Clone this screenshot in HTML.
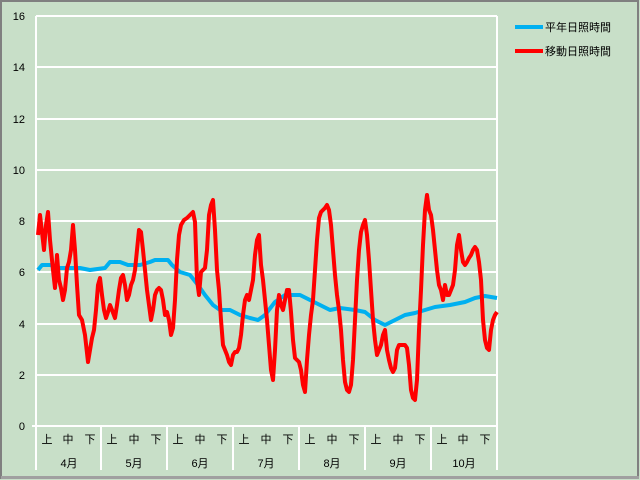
<!DOCTYPE html>
<html><head><meta charset="utf-8"><style>
html,body{margin:0;padding:0;background:#c8dfc8;}
svg{display:block;}
text{font-family:"Liberation Sans","Noto Sans CJK JP",sans-serif;font-size:11px;fill:#000;}
</style></head><body>
<svg width="640" height="480" viewBox="0 0 640 480">
<rect x="0" y="0" width="640" height="480" fill="#c8dfc8"/>
<rect x="1" y="1" width="637" height="477" fill="none" stroke="#808080" stroke-width="2"/>
<rect x="1" y="476" width="638" height="3" fill="#a0a0a0"/>
<g stroke="#fff" stroke-width="2" fill="none">
<line x1="36" y1="16" x2="497" y2="16"/>
<line x1="36" y1="67" x2="497" y2="67"/>
<line x1="36" y1="119" x2="497" y2="119"/>
<line x1="36" y1="170" x2="497" y2="170"/>
<line x1="36" y1="221" x2="497" y2="221"/>
<line x1="36" y1="272" x2="497" y2="272"/>
<line x1="36" y1="324" x2="497" y2="324"/>
<line x1="36" y1="375" x2="497" y2="375"/>
<line x1="32" y1="426" x2="497" y2="426"/>
<line x1="36" y1="16" x2="36" y2="470"/>
<line x1="497" y1="16" x2="497" y2="470"/>
<line x1="101" y1="426" x2="101" y2="470"/>
<line x1="167" y1="426" x2="167" y2="470"/>
<line x1="233" y1="426" x2="233" y2="470"/>
<line x1="299" y1="426" x2="299" y2="470"/>
<line x1="365" y1="426" x2="365" y2="470"/>
<line x1="431" y1="426" x2="431" y2="470"/>
</g>
<g text-anchor="end">
<text x="25" y="20">16</text><text x="25" y="71">14</text><text x="25" y="123">12</text>
<text x="25" y="174">10</text><text x="25" y="225">8</text><text x="25" y="276">6</text>
<text x="25" y="328">4</text><text x="25" y="379">2</text><text x="25" y="430">0</text>
</g>
<g text-anchor="middle">
<text x="47" y="443">上</text><text x="68" y="443">中</text><text x="90" y="443">下</text>
<text x="112" y="443">上</text><text x="134" y="443">中</text><text x="156" y="443">下</text>
<text x="178" y="443">上</text><text x="200" y="443">中</text><text x="222" y="443">下</text>
<text x="244" y="443">上</text><text x="266" y="443">中</text><text x="288" y="443">下</text>
<text x="310" y="443">上</text><text x="332" y="443">中</text><text x="354" y="443">下</text>
<text x="376" y="443">上</text><text x="398" y="443">中</text><text x="420" y="443">下</text>
<text x="442" y="443">上</text><text x="463" y="443">中</text><text x="485" y="443">下</text>
<text x="69" y="467">4月</text><text x="134" y="467">5月</text><text x="200" y="467">6月</text>
<text x="266" y="467">7月</text><text x="332" y="467">8月</text><text x="398" y="467">9月</text>
<text x="464" y="467">10月</text>
</g>
<polyline fill="none" stroke="#00b0f0" stroke-width="4" stroke-linejoin="round" points="38,270 42,265 50,265 60,268 70,268 80,268 90,270 105,268 110,262 120,262 128,265 140,265 150,262 155,260 168,260 172,265 180,272 190,275 198,285 205,295 213,305 220,310 230,310 240,315 250,318 258,320 265,315 275,302 285,295 300,295 310,300 320,305 330,310 340,308 355,310 365,312 375,320 385,325 395,320 405,315 415,313 425,310 435,307 450,305 465,302 475,298 485,296 497,298"/>
<polyline fill="none" stroke="#ff0000" stroke-width="4" stroke-linejoin="round" points="38,235 40,215 42,232 44,250 46,225 48,212 50,240 53,270 55,288 57,255 59,280 61,288 63,300 65,290 67,268 69,262 71,250 73,225 75,250 77,285 79,315 82,320 85,335 88,362 90,350 92,338 94,330 96,310 98,285 100,278 102,295 104,310 106,318 108,312 110,305 112,310 115,318 117,305 119,290 121,278 123,275 125,285 127,300 129,295 131,285 133,280 135,270 137,250 139,230 141,232 143,250 145,270 147,290 149,305 151,320 153,310 155,295 157,290 159,288 161,290 163,300 165,315 167,312 169,320 171,335 173,328 175,300 177,260 179,235 181,225 184,220 187,218 190,215 193,212 195,222 197,280 199,295 201,272 203,270 205,268 207,250 209,215 211,205 213,200 215,230 217,270 219,290 221,320 223,345 225,350 227,355 229,362 231,365 233,355 235,352 237,352 239,348 241,335 243,315 245,300 247,295 249,300 251,290 253,280 255,255 257,240 259,235 261,265 263,280 265,300 267,320 269,345 271,370 273,380 275,350 277,310 279,295 281,305 283,310 285,300 287,290 289,290 291,312 293,340 295,358 297,360 299,362 301,370 303,385 305,392 307,360 309,335 311,315 313,300 315,270 317,240 319,218 321,212 323,210 325,208 327,205 329,210 331,225 333,250 335,275 337,295 339,310 341,330 343,360 345,382 347,390 349,392 351,385 353,360 355,320 357,280 359,250 361,232 363,225 365,220 367,235 369,260 371,290 373,320 375,340 377,355 379,350 381,345 383,335 385,330 387,350 389,360 391,368 393,372 395,368 397,350 399,345 401,345 403,345 405,345 407,348 409,365 411,390 413,398 415,400 417,380 419,330 421,290 423,245 425,210 427,195 429,210 431,215 433,230 435,250 437,270 439,285 441,290 443,300 445,285 447,295 449,295 451,290 453,285 455,270 457,245 459,235 461,250 463,262 465,265 467,262 469,258 471,255 473,250 475,247 477,250 479,262 481,280 483,320 485,340 487,348 489,350 491,330 493,320 495,315 497,312"/>
<line x1="515" y1="27" x2="543" y2="27" stroke="#00b0f0" stroke-width="4"/>
<line x1="515" y1="51" x2="543" y2="51" stroke="#ff0000" stroke-width="4"/>
<text x="545" y="31">平年日照時間</text>
<text x="545" y="55">移動日照時間</text>
</svg>
</body></html>
